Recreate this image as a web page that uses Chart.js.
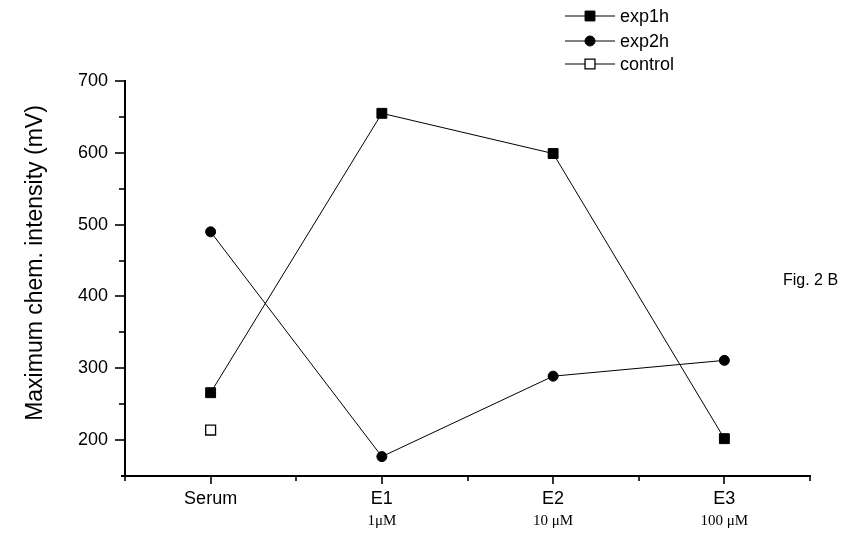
<!DOCTYPE html>
<html><head><meta charset="utf-8">
<script src="https://cdn.jsdelivr.net/npm/chart.js@4.4.0/dist/chart.umd.min.js"></script>
<style>html,body{margin:0;padding:0;background:#fff;} #wrap{width:843px;height:533px;}</style>
</head><body><div id="wrap"><canvas id="c" width="843" height="533"></canvas></div>
<script>
const categories = ['Serum', 'E1', 'E2', 'E3'];
const subLabels = ['', '1\u03bcM', '10 \u03bcM', '100 \u03bcM'];
const exp1h = [266, 655, 599, 202];
const exp2h = [490, 177, 289, 311];
const control = [214, null, null, null];
const seriesNames = ['exp1h', 'exp2h', 'control'];
const yMin = 150, yMax = 700, yMajor = 100, yMinor = 50;
const yTitle = 'Maximum chem. intensity (mV)';
const note = 'Fig. 2 B';

const SANS = '"Liberation Sans", Arial, sans-serif';
const SERIF = '"Liberation Serif", "Times New Roman", serif';

function toPoints(arr) {
  return arr.map((v, i) => ({ x: i, y: v })).filter(p => p.y !== null);
}

const overlay = {
  id: 'overlay',
  afterDraw(chart) {
    const ctx = chart.ctx;
    const xs = chart.scales.x, ys = chart.scales.y;
    const area = chart.chartArea;
    ctx.save();
    ctx.strokeStyle = '#000';
    ctx.lineWidth = 1.6;
    // x ticks
    for (let v = -0.5; v <= 3.5 + 1e-9; v += 0.5) {
      const px = Math.round(xs.getPixelForValue(v));
      const len = Number.isInteger(v) ? 8 : 5;
      ctx.beginPath();
      ctx.moveTo(px, area.bottom);
      ctx.lineTo(px, area.bottom + len);
      ctx.stroke();
    }
    // small extension of x axis
    ctx.beginPath();
    ctx.lineWidth = 2;
    ctx.moveTo(area.left - 4, area.bottom);
    ctx.lineTo(area.left, area.bottom);
    ctx.stroke();
    ctx.lineWidth = 1.6;
    // y ticks
    for (let v = yMin + yMinor; v <= yMax + 1e-9; v += yMinor) {
      const py = Math.round(ys.getPixelForValue(v));
      const len = (v % yMajor === 0) ? 10 : 6;
      ctx.beginPath();
      ctx.moveTo(area.left, py);
      ctx.lineTo(area.left - len, py);
      ctx.stroke();
    }
    // sub labels
    ctx.fillStyle = '#000';
    ctx.font = '15px ' + SERIF;
    ctx.textAlign = 'center';
    ctx.textBaseline = 'middle';
    subLabels.forEach((s, i) => {
      if (s) ctx.fillText(s, xs.getPixelForValue(i), 521);
    });
    // y title
    ctx.save();
    ctx.translate(36, 263);
    ctx.rotate(-Math.PI / 2);
    ctx.font = '23px ' + SANS;
    ctx.textAlign = 'center';
    ctx.textBaseline = 'middle';
    ctx.fillText(yTitle, 0, 0);
    ctx.restore();
    // note
    ctx.font = '16px ' + SANS;
    ctx.textAlign = 'left';
    ctx.textBaseline = 'middle';
    ctx.fillText(note, 783, 281);
    // legend
    const rows = [16, 41, 64];
    chart.data.datasets.forEach((ds, i) => {
      const y = rows[i];
      ctx.strokeStyle = '#000';
      ctx.lineWidth = 1;
      ctx.beginPath();
      ctx.moveTo(565, y);
      ctx.lineTo(615, y);
      ctx.stroke();
      ctx.fillStyle = ds.pointBackgroundColor;
      ctx.strokeStyle = '#000';
      ctx.lineWidth = ds.pointBorderWidth;
      ctx.beginPath();
      if (ds.pointStyle === 'circle') {
        ctx.arc(590, y, ds.pointRadius, 0, Math.PI * 2);
      } else {
        const h = ds.pointRadius * Math.SQRT1_2;
        ctx.rect(590 - h, y - h, 2 * h, 2 * h);
      }
      ctx.fill();
      ctx.stroke();
      ctx.fillStyle = '#000';
      ctx.font = '18px ' + SANS;
      ctx.textAlign = 'left';
      ctx.textBaseline = 'middle';
      ctx.fillText(ds.label, 620, y + 1);
    });
    ctx.restore();
  }
};

new Chart(document.getElementById('c'), {
  type: 'line',
  data: {
    datasets: [
      { label: seriesNames[0], data: toPoints(exp1h), borderColor: '#000', borderWidth: 1,
        pointStyle: 'rect', pointRadius: 7, pointBackgroundColor: '#000', pointBorderColor: '#000', pointBorderWidth: 1, tension: 0 },
      { label: seriesNames[1], data: toPoints(exp2h), borderColor: '#000', borderWidth: 1,
        pointStyle: 'circle', pointRadius: 5, pointBackgroundColor: '#000', pointBorderColor: '#000', pointBorderWidth: 1, tension: 0 },
      { label: seriesNames[2], data: toPoints(control), borderColor: '#000', borderWidth: 1,
        pointStyle: 'rect', pointRadius: 7, pointBackgroundColor: '#fff', pointBorderColor: '#000', pointBorderWidth: 1.3, tension: 0 }
    ]
  },
  options: {
    responsive: false,
    devicePixelRatio: 1,
    animation: false,
    layout: { padding: { left: 0, top: 81, right: 33, bottom: 0 } },
    plugins: { legend: { display: false }, tooltip: { enabled: false } },
    scales: {
      x: {
        type: 'linear', min: -0.5, max: 3.5,
        grid: { display: false, drawTicks: false },
        border: { display: true, color: '#000', width: 2 },
        ticks: {
          stepSize: 0.5, autoSkip: false, maxRotation: 0, padding: 12, color: '#000',
          font: { family: SANS, size: 18 },
          callback: v => Number.isInteger(v) && v >= 0 ? categories[v] : ''
        },
        afterFit: s => { s.height = 57; }
      },
      y: {
        min: yMin, max: yMax,
        grid: { display: false, drawTicks: false },
        border: { display: true, color: '#000', width: 2 },
        ticks: {
          stepSize: yMinor, padding: 17, color: '#000',
          font: { family: SANS, size: 18 },
          callback: v => (v % yMajor === 0 ? String(v) : '')
        },
        afterFit: s => { s.width = 125; }
      }
    }
  },
  plugins: [overlay]
});
</script>
</body></html>
